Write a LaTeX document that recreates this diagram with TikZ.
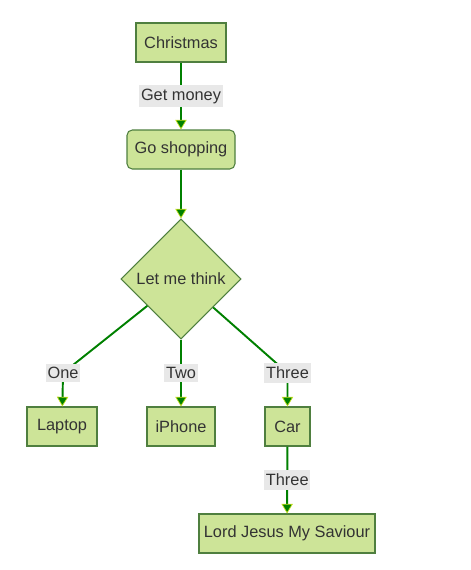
\documentclass[tikz,border=0pt]{standalone}
\usepackage{fontspec}
\setmainfont{Liberation Sans}
\usetikzlibrary{shapes.geometric,arrows.meta}

\definecolor{nodefill}{HTML}{CDE498}
\definecolor{nodeline}{HTML}{4F7F3F}
\definecolor{linkgreen}{HTML}{008000}
\definecolor{linktip}{HTML}{C8E020}
\definecolor{labelbg}{HTML}{E8E8E8}
\definecolor{textgray}{HTML}{333333}

\tikzset{
    box/.style={draw=nodeline, fill=nodefill, line width=0.6pt,
        minimum height=0.78cm, inner sep=0pt, text=textgray,
        font=\fontsize{9.3}{11}\selectfont},
    roundbox/.style={box, rounded corners=3pt},
    choice/.style={box, diamond, aspect=1, minimum size=2.4cm},
    link/.style={draw=linkgreen, line width=1.1pt,
        -{Triangle[length=5.5pt, width=6.5pt, line width=0.4pt, fill=linkgreen, color=linktip]}},
    edgelabel/.style={fill=labelbg, text=textgray, inner xsep=1pt, inner ysep=2pt,
        font=\fontsize{9.3}{11}\selectfont}
}

\begin{document}
\begin{tikzpicture}
    \useasboundingbox (0,0) rectangle (9.4,-11.4);

    % Nodi principali
    \node[box, minimum width=1.8cm] (christmas) at (3.62,-0.85) {Christmas};
    \node[roundbox, minimum width=2.16cm] (shopping) at (3.62,-2.99) {Go shopping};
    \node[choice] (think) at (3.62,-5.58) {Let me think};

    % Regali
    \node[box, minimum width=1.4cm] (laptop) at (1.24,-8.53) {Laptop};
    \node[box, minimum width=1.36cm] (iphone) at (3.62,-8.53) {iPhone};
    \node[box, minimum width=0.9cm] (car) at (5.75,-8.53) {Car};
    \node[box, minimum width=3.52cm] (lord) at (5.74,-10.67) {Lord Jesus My Saviour};

    % Punti delle etichette
    \coordinate (bendone) at (1.26,-7.46);
    \coordinate (bendthree) at (5.75,-7.46);

    % Collegamenti
    \draw[link] (christmas) -- (shopping) node[midway, edgelabel] {Get money};
    \draw[link] (shopping) -- (think);
    \draw[link] (think) -- (bendone) node[edgelabel] {One} -- (laptop);
    \draw[link] (think) -- (iphone) node[midway, edgelabel] {Two};
    \draw[link] (think) -- (bendthree) node[edgelabel] {Three} -- (car);
    \draw[link] (car) -- (lord) node[midway, edgelabel] {Three};
\end{tikzpicture}
\end{document}
